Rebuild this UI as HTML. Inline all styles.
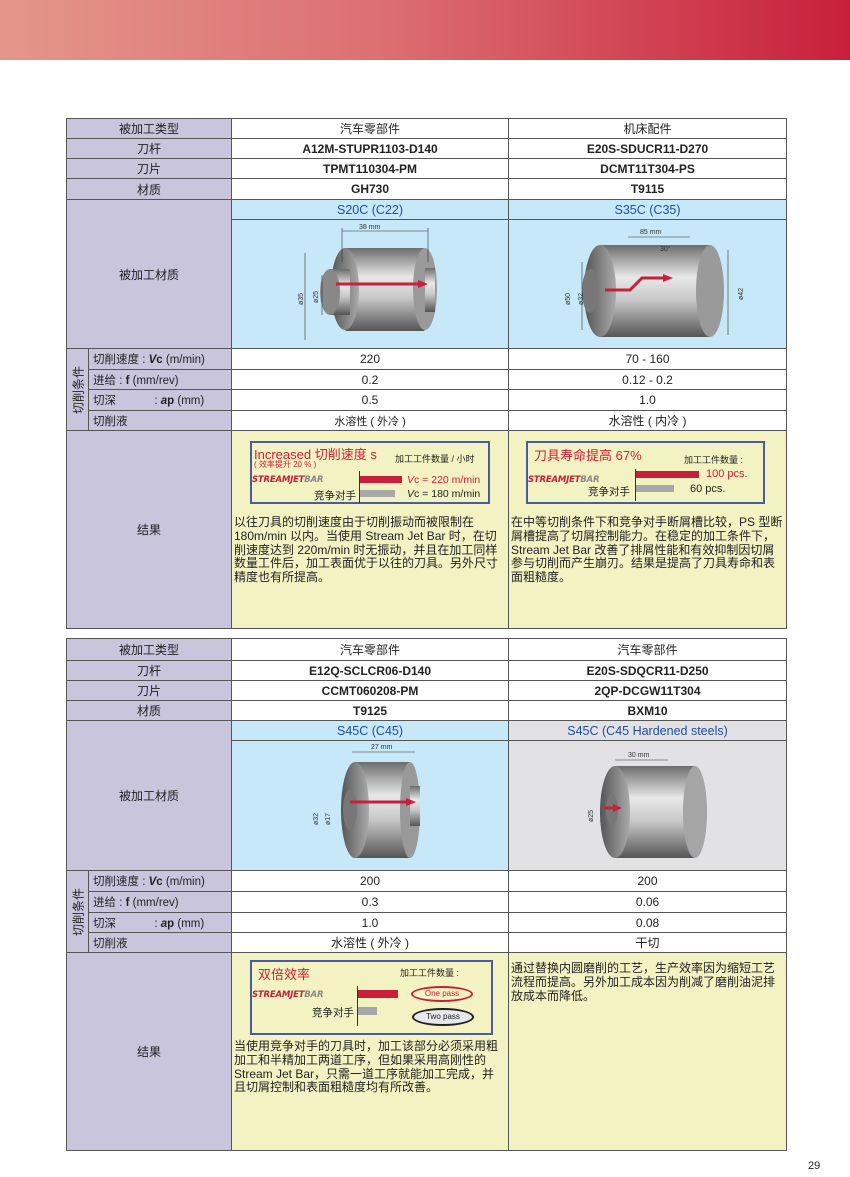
<!DOCTYPE html>
<html><head><meta charset="utf-8">
<style>
*{margin:0;padding:0;box-sizing:border-box}
body{width:850px;height:1177px;background:#fff;position:relative;font-family:"Liberation Sans","Noto Sans CJK SC",sans-serif;color:#222;overflow:hidden}
.banner{position:absolute;left:0;top:0;width:850px;height:60px;background:linear-gradient(90deg,#e4968a 0%,#dc6f72 45%,#c8203c 100%)}
table{position:absolute;left:66px;border-collapse:collapse;table-layout:fixed;width:720px}
td{border:1px solid #555;font-size:12px;text-align:center;vertical-align:middle;padding:0;overflow:hidden}
.lab{background:#c9c5dd}
.b{font-weight:bold}
.blue{background:#c6e8f8}
.gray{background:#e2e2e4}
.sub{color:#1f4e9c;font-size:12.5px;height:20px}
.res{background:#f2f2c2;vertical-align:top;text-align:left;position:relative}
.sidecell{position:relative}
.side{position:absolute;left:50%;top:50%;transform:translate(-50%,-50%) rotate(-90deg);white-space:nowrap;font-size:12px}
.cl{text-align:left;padding-left:4px;font-size:11.5px}
.box{position:absolute;border:2px solid #4a5d9a;background:#f2f2c2}
.para{position:absolute;font-size:12px;line-height:13.8px;color:#222}
.sjb{position:absolute;font-family:"DejaVu Sans",sans-serif;font-weight:bold;font-size:8.5px;letter-spacing:-0.2px;color:#c0203a;font-style:italic}
.sjb span{color:#888}
.red{color:#d0203a}
.pg{position:absolute;left:808px;top:1160px;font-size:11px}
</style></head><body>
<div class="banner"></div>

<table style="top:118px">
<colgroup><col style="width:22px"><col style="width:143px"><col style="width:277px"><col style="width:278px"></colgroup>
<tr style="height:20px"><td class="lab" colspan="2">被加工类型</td><td>汽车零部件</td><td>机床配件</td></tr>
<tr style="height:20px"><td class="lab" colspan="2">刀杆</td><td class="b">A12M-STUPR1103-D140</td><td class="b">E20S-SDUCR11-D270</td></tr>
<tr style="height:20px"><td class="lab" colspan="2">刀片</td><td class="b">TPMT110304-PM</td><td class="b">DCMT11T304-PS</td></tr>
<tr style="height:21px"><td class="lab" colspan="2">材质</td><td class="b">GH730</td><td class="b">T9115</td></tr>
<tr style="height:20px"><td class="lab" colspan="2" rowspan="2">被加工材质</td><td class="blue sub">S20C (C22)</td><td class="blue sub">S35C (C35)</td></tr>
<tr style="height:129px"><td class="blue"></td><td class="blue"></td></tr>
<tr style="height:21px"><td class="lab sidecell" rowspan="4"><span class="side">切削条件</span></td><td class="lab cl">切削速度 : <b><i>V</i>c</b> (m/min)</td><td>220</td><td>70 - 160</td></tr>
<tr style="height:20px"><td class="lab cl">进给 : <b>f</b> (mm/rev)</td><td>0.2</td><td>0.12 - 0.2</td></tr>
<tr style="height:21px"><td class="lab cl">切深 &nbsp;&nbsp;&nbsp;&nbsp;&nbsp;&nbsp;&nbsp;&nbsp;&nbsp;&nbsp; : <b><i>a</i>p</b> (mm)</td><td>0.5</td><td>1.0</td></tr>
<tr style="height:20px"><td class="lab cl">切削液</td><td style="font-size:11px">水溶性 ( 外冷 )</td><td>水溶性 ( 内冷 )</td></tr>
<tr style="height:198px"><td class="lab" colspan="2">结果</td><td class="res"></td><td class="res"></td></tr>
</table>

<table style="top:638px">
<colgroup><col style="width:22px"><col style="width:143px"><col style="width:277px"><col style="width:278px"></colgroup>
<tr style="height:22px"><td class="lab" colspan="2">被加工类型</td><td>汽车零部件</td><td>汽车零部件</td></tr>
<tr style="height:20px"><td class="lab" colspan="2">刀杆</td><td class="b">E12Q-SCLCR06-D140</td><td class="b">E20S-SDQCR11-D250</td></tr>
<tr style="height:20px"><td class="lab" colspan="2">刀片</td><td class="b">CCMT060208-PM</td><td class="b">2QP-DCGW11T304</td></tr>
<tr style="height:20px"><td class="lab" colspan="2">材质</td><td class="b">T9125</td><td class="b">BXM10</td></tr>
<tr style="height:20px"><td class="lab" colspan="2" rowspan="2">被加工材质</td><td class="blue sub">S45C (C45)</td><td class="gray sub">S45C (C45 Hardened steels)</td></tr>
<tr style="height:130px"><td class="blue"></td><td class="gray"></td></tr>
<tr style="height:21px"><td class="lab sidecell" rowspan="4"><span class="side">切削条件</span></td><td class="lab cl">切削速度 : <b><i>V</i>c</b> (m/min)</td><td>200</td><td>200</td></tr>
<tr style="height:21px"><td class="lab cl">进给 : <b>f</b> (mm/rev)</td><td>0.3</td><td>0.06</td></tr>
<tr style="height:20px"><td class="lab cl">切深 &nbsp;&nbsp;&nbsp;&nbsp;&nbsp;&nbsp;&nbsp;&nbsp;&nbsp;&nbsp; : <b><i>a</i>p</b> (mm)</td><td>1.0</td><td>0.08</td></tr>
<tr style="height:20px"><td class="lab cl">切削液</td><td>水溶性 ( 外冷 )</td><td>干切</td></tr>
<tr style="height:198px"><td class="lab" colspan="2">结果</td><td class="res"></td><td class="res"></td></tr>
</table>

<svg style="position:absolute;left:0;top:0" width="850" height="1177">
<defs>
<linearGradient id="g" x1="0" y1="0" x2="0" y2="1"><stop offset="0" stop-color="#6d6d6d"/><stop offset=".35" stop-color="#e8e8e8"/><stop offset=".6" stop-color="#c8c8c8"/><stop offset="1" stop-color="#555"/></linearGradient>
<linearGradient id="f" x1="0" y1="0" x2="1" y2="0"><stop offset="0" stop-color="#555"/><stop offset="1" stop-color="#aaa"/></linearGradient>
</defs>
<g stroke="#333" stroke-width=".6" fill="none" font-size="7" font-family="Liberation Sans">
<rect x="345" y="248" width="80" height="83" rx="2" fill="url(#g)" stroke="none"/>
<ellipse cx="425" cy="289" rx="12" ry="41" fill="#9a9a9a" stroke="none"/>
<ellipse cx="345" cy="289" rx="14" ry="41" fill="url(#f)" stroke="none"/>
<rect x="330" y="269" width="20" height="46" fill="url(#g)" stroke="none"/>
<ellipse cx="330" cy="292" rx="10" ry="23" fill="#888" stroke="none"/>
<rect x="425" y="268" width="10" height="44" fill="url(#g)" stroke="none"/>
<line x1="336" y1="284" x2="420" y2="284" stroke="#c8203a" stroke-width="3"/>
<polygon points="418,280 428,284 418,288" fill="#c8203a" stroke="none"/>
<line x1="342" y1="231" x2="428" y2="231"/><line x1="342" y1="228" x2="342" y2="262"/><line x1="428" y1="228" x2="428" y2="262"/>
<line x1="305" y1="253" x2="305" y2="340"/><line x1="322" y1="275" x2="322" y2="315"/>
<text x="359" y="229" fill="#333" stroke="none">38 mm</text>
<text transform="translate(303,305) rotate(-90)" fill="#333" stroke="none">ø35</text>
<text transform="translate(318,303) rotate(-90)" fill="#333" stroke="none">ø25</text>
<rect x="600" y="245" width="110" height="92" fill="url(#g)" stroke="none"/>
<ellipse cx="710" cy="291" rx="14" ry="46" fill="#9a9a9a" stroke="none"/>
<ellipse cx="600" cy="291" rx="16" ry="46" fill="url(#f)" stroke="none"/>
<ellipse cx="590" cy="291" rx="8" ry="22" fill="#777" stroke="none"/>
<polyline points="605,290 630,290 642,278 665,278" stroke="#c8203a" stroke-width="3"/>
<polygon points="663,274 673,278 663,282" fill="#c8203a" stroke="none"/>
<line x1="628" y1="237" x2="690" y2="237"/>
<text x="640" y="234" fill="#333" stroke="none">85 mm</text>
<text x="660" y="251" fill="#333" stroke="none">30°</text>
<line x1="582" y1="262" x2="582" y2="330"/><line x1="728" y1="250" x2="728" y2="335"/>
<text transform="translate(570,305) rotate(-90)" fill="#333" stroke="none">ø50</text>
<text transform="translate(583,305) rotate(-90)" fill="#333" stroke="none">ø32</text>
<text transform="translate(743,300) rotate(-90)" fill="#333" stroke="none">ø42</text>
<rect x="355" y="762" width="55" height="96" fill="url(#g)" stroke="none"/>
<ellipse cx="410" cy="810" rx="10" ry="48" fill="#999" stroke="none"/>
<ellipse cx="355" cy="810" rx="14" ry="48" fill="url(#f)" stroke="none"/>
<rect x="410" y="786" width="10" height="40" fill="url(#g)" stroke="none"/>
<ellipse cx="350" cy="810" rx="7" ry="20" fill="#777" stroke="none"/>
<line x1="350" y1="802" x2="408" y2="802" stroke="#c8203a" stroke-width="3"/>
<polygon points="406,798 416,802 406,806" fill="#c8203a" stroke="none"/>
<line x1="352" y1="752" x2="415" y2="752"/>
<text x="371" y="749" fill="#333" stroke="none">27 mm</text>
<text transform="translate(318,825) rotate(-90)" fill="#333" stroke="none">ø32</text>
<text transform="translate(330,825) rotate(-90)" fill="#333" stroke="none">ø17</text>
<rect x="615" y="766" width="80" height="92" fill="url(#g)" stroke="none"/>
<ellipse cx="695" cy="812" rx="12" ry="46" fill="#a5a5a5" stroke="none"/>
<ellipse cx="615" cy="812" rx="15" ry="46" fill="url(#f)" stroke="none"/>
<ellipse cx="612" cy="810" rx="6" ry="16" fill="#777" stroke="none"/>
<line x1="604" y1="808" x2="615" y2="808" stroke="#c8203a" stroke-width="3"/>
<polygon points="613,804 622,808 613,812" fill="#c8203a" stroke="none"/>
<line x1="615" y1="760" x2="668" y2="760"/>
<text x="628" y="757" fill="#333" stroke="none">30 mm</text>
<text transform="translate(593,822) rotate(-90)" fill="#333" stroke="none">ø25</text>
</g>
</svg>

<div class="box" style="left:250px;top:441px;width:240px;height:63px">
<div style="position:absolute;left:2px;top:1px;font-size:13px" class="red">Increased 切削速度 s</div>
<div style="position:absolute;left:2px;top:16px;font-size:8px" class="red">( 效率提升 20 % )</div>
<div style="position:absolute;left:143px;top:9px;font-size:9px">加工工件数量 / 小时</div>
<div class="sjb" style="left:0;top:32px">STREAMJET<span>BAR</span></div>
<div style="position:absolute;left:62px;top:45px;font-size:10.5px">竞争对手</div>
<div style="position:absolute;left:107px;top:28px;width:1px;height:32px;background:#333"></div>
<div style="position:absolute;left:108px;top:33px;width:42px;height:7px;background:#c8203a"></div>
<div style="position:absolute;left:108px;top:47px;width:35px;height:7px;background:#a8a8a8"></div>
<div style="position:absolute;left:155px;top:31px;font-size:10.5px" class="red"><i>V</i>c = 220 m/min</div>
<div style="position:absolute;left:155px;top:45px;font-size:10.5px"><i>V</i>c = 180 m/min</div>
</div>
<div class="para" style="left:234px;top:516px;width:270px">以往刀具的切削速度由于切削振动而被限制在180m/min 以内。当使用 Stream Jet Bar 时，在切削速度达到 220m/min 时无振动，并且在加工同样数量工件后，加工表面优于以往的刀具。另外尺寸精度也有所提高。</div>

<div class="box" style="left:526px;top:441px;width:239px;height:63px">
<div style="position:absolute;left:6px;top:2px;font-size:13px" class="red">刀具寿命提高 67%</div>
<div style="position:absolute;left:156px;top:10px;font-size:9px">加工工件数量 :</div>
<div class="sjb" style="left:0;top:32px">STREAMJET<span>BAR</span></div>
<div style="position:absolute;left:60px;top:41px;font-size:10.5px">竞争对手</div>
<div style="position:absolute;left:107px;top:26px;width:1px;height:32px;background:#333"></div>
<div style="position:absolute;left:108px;top:28px;width:63px;height:7px;background:#c8203a"></div>
<div style="position:absolute;left:108px;top:42px;width:38px;height:7px;background:#a8a8a8"></div>
<div style="position:absolute;left:178px;top:25px;font-size:11px" class="red">100 pcs.</div>
<div style="position:absolute;left:162px;top:40px;font-size:11px">60 pcs.</div>
</div>
<div class="para" style="left:511px;top:516px;width:272px">在中等切削条件下和竞争对手断屑槽比较，PS 型断屑槽提高了切屑控制能力。在稳定的加工条件下，Stream Jet Bar 改善了排屑性能和有效抑制因切屑参与切削而产生崩刃。结果是提高了刀具寿命和表面粗糙度。</div>

<div class="box" style="left:250px;top:960px;width:243px;height:75px">
<div style="position:absolute;left:6px;top:2px;font-size:13px" class="red">双倍效率</div>
<div style="position:absolute;left:148px;top:4px;font-size:9px">加工工件数量 :</div>
<div class="sjb" style="left:0;top:28px">STREAMJET<span>BAR</span></div>
<div style="position:absolute;left:60px;top:43px;font-size:10.5px">竞争对手</div>
<div style="position:absolute;left:105px;top:24px;width:1px;height:40px;background:#333"></div>
<div style="position:absolute;left:106px;top:28px;width:40px;height:8px;background:#c8203a"></div>
<div style="position:absolute;left:106px;top:45px;width:19px;height:8px;background:#a8a8a8"></div>
<div style="position:absolute;left:159px;top:24px;width:62px;height:16px;border:2px solid #c8203a;border-radius:50%;font-size:8px;text-align:center;line-height:12px" class="red">One pass</div>
<div style="position:absolute;left:160px;top:46px;width:62px;height:18px;border:2px solid #222;border-radius:50%;background:#e8e8ec;font-size:8px;text-align:center;line-height:14px">Two pass</div>
</div>
<div class="para" style="left:234px;top:1040px;width:272px">当使用竞争对手的刀具时，加工该部分必须采用粗加工和半精加工两道工序，但如果采用高刚性的 Stream Jet Bar，只需一道工序就能加工完成，并且切屑控制和表面粗糙度均有所改善。</div>
<div class="para" style="left:511px;top:962px;width:270px">通过替换内圆磨削的工艺，生产效率因为缩短工艺流程而提高。另外加工成本因为削减了磨削油泥排放成本而降低。</div>

<div class="pg">29</div>
</body></html>
